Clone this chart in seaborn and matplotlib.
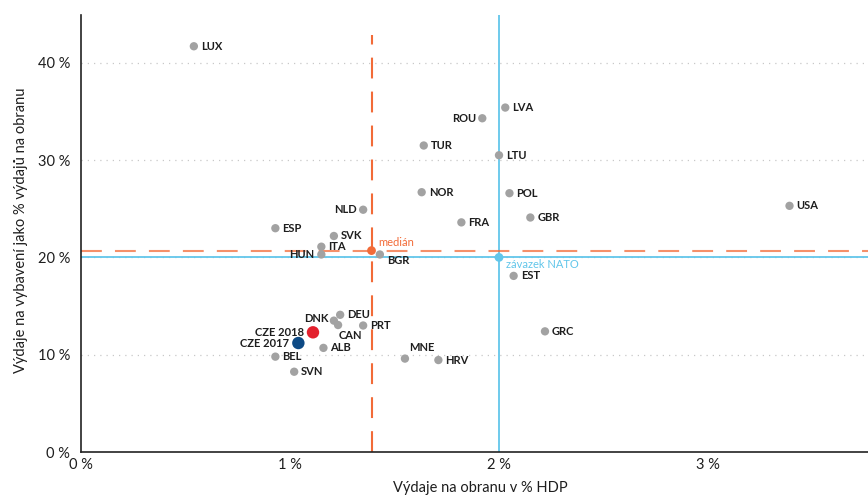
import matplotlib
matplotlib.use("Agg")
import matplotlib.pyplot as plt
import seaborn as sns
import pandas as pd

# ---- data ----
countries = ["LUX", "ROU", "LVA", "TUR", "LTU", "NOR", "POL", "NLD", "FRA", "GBR",
             "USA", "ESP", "SVK", "ITA", "HUN", "BGR", "EST", "DEU", "DNK", "CAN",
             "PRT", "ALB", "BEL", "SVN", "MNE", "HRV", "GRC"]
gdp_share = [0.54, 1.92, 2.03, 1.64, 2.00, 1.63, 2.05, 1.35, 1.82, 2.15,
             3.39, 0.93, 1.21, 1.15, 1.15, 1.43, 2.07, 1.24, 1.21, 1.23,
             1.35, 1.16, 0.93, 1.02, 1.55, 1.71, 2.22]
equip_share = [41.7, 34.3, 35.4, 31.5, 30.5, 26.7, 26.6, 24.9, 23.6, 24.1,
               25.3, 23.0, 22.2, 21.1, 20.3, 20.3, 18.1, 14.1, 13.5, 13.05,
               13.0, 10.7, 9.8, 8.25, 9.6, 9.45, 12.4]

cze_labels = ["CZE 2018", "CZE 2017"]
cze_gdp = [1.11, 1.04]
cze_equip = [12.3, 11.2]

median_gdp = 1.39
median_equip = 20.7
nato_gdp = 2.0
nato_equip = 20.0

x_ticks = [0, 1, 2, 3]
x_tick_labels = ["0 %", "1 %", "2 %", "3 %"]
y_ticks = [0, 10, 20, 30, 40]
y_tick_labels = ["0 %", "10 %", "20 %", "30 %", "40 %"]

# ---- style ----
GRAY = "#a2a2a2"
ORANGE = "#f26b38"
BLUE = "#62c6ea"
RED = "#e3202d"
NAVY = "#0d4a85"
TXT = "#1e1e1e"

sns.set_theme(style="white")
plt.rcParams["font.family"] = ["Lato", "DejaVu Sans"]

fig = plt.figure(figsize=(8.68, 4.96), dpi=100)
ax = fig.add_axes([81 / 868, 44 / 496, 787 / 868, 437 / 496])

df = pd.DataFrame({"country": countries, "gdp": gdp_share, "equip": equip_share})
cz = pd.DataFrame({"label": cze_labels, "gdp": cze_gdp, "equip": cze_equip})

# grid
for yt in y_ticks[1:]:
    ax.axhline(yt, color="#c8c8c8", lw=0.9, ls=(0, (1, 4)), zorder=0)

# NATO lines
ax.axvline(nato_gdp, color=BLUE, lw=1.3, zorder=1)
ax.axhline(nato_equip, color=BLUE, lw=1.3, zorder=1)

# median lines (dashed)
ax.plot([0, 4], [median_equip, median_equip], color=ORANGE, lw=1.5, alpha=0.75,
        dashes=(10, 6.3), zorder=1.5)
ax.plot([median_gdp, median_gdp], [0, 42.9], color=ORANGE, lw=1.5,
        dashes=(10, 6.3), zorder=1.5)

sns.scatterplot(data=df, x="gdp", y="equip", ax=ax, color=GRAY, s=36,
                edgecolor="none", zorder=3, legend=False)
sns.scatterplot(data=cz, x="gdp", y="equip", hue="label", palette=[RED, NAVY],
                ax=ax, s=80, edgecolor="none", zorder=4, legend=False)
ax.scatter([median_gdp], [median_equip], color=ORANGE, s=40, zorder=4, edgecolor="none")
ax.scatter([nato_gdp], [nato_equip], color=BLUE, s=40, zorder=4, edgecolor="none")

# label placement (offset in points, horizontal alignment)
k = 0.72
place = {
    "ROU": (-6 * k, 0, "right"),
    "NLD": (-6 * k, 0, "right"),
    "HUN": (-7.5 * k, 0, "right"),
    "DNK": (-5 * k, 2 * k, "right"),
    "CAN": (1 * k, -10 * k, "left"),
    "BGR": (7.5 * k, -6.5 * k, "left"),
    "MNE": (4.5 * k, 11 * k, "left"),
}
lab_kw = dict(fontsize=8, fontweight="bold", color=TXT, va="center")
for c, xv, yv in zip(countries, gdp_share, equip_share):
    dx, dy, ha = place.get(c, (7 * k, 0, "left"))
    ax.annotate(c, (xv, yv), xytext=(dx, dy), textcoords="offset points",
                ha=ha, zorder=5, **lab_kw)
for lab, xv, yv in zip(cze_labels, cze_gdp, cze_equip):
    ax.annotate(lab, (xv, yv), xytext=(-9 * k, 0), textcoords="offset points",
                ha="right", zorder=5, **lab_kw)

ax.annotate("medián", (median_gdp, median_equip), xytext=(7 * k, 8 * k),
            textcoords="offset points", ha="left", va="center", fontsize=8,
            color=ORANGE)
ax.annotate("závazek NATO", (nato_gdp, nato_equip), xytext=(7 * k, -7 * k),
            textcoords="offset points", ha="left", va="center", fontsize=8,
            color=BLUE)

ax.set_xlim(0, 787 / 209)
ax.set_ylim(0, 437 / 9.73)
ax.set_xticks(x_ticks)
ax.set_xticklabels(x_tick_labels)
ax.set_yticks(y_ticks)
ax.set_yticklabels(y_tick_labels)
ax.tick_params(axis="both", length=0, labelsize=10.5, colors=TXT)
ax.tick_params(axis="x", pad=4)
ax.tick_params(axis="y", pad=8)

for side in ["top", "right"]:
    ax.spines[side].set_visible(False)
for side in ["left", "bottom"]:
    ax.spines[side].set_color("#222222")
    ax.spines[side].set_linewidth(1.2)

ax.set_xlabel("Výdaje na obranu v % HDP", fontsize=10.5, color=TXT)
ax.set_ylabel("Výdaje na vybavení jako % výdajů na obranu", fontsize=10.5, color=TXT)
ax.xaxis.set_label_coords(0.507, -(481 - 452) / 437)
ax.yaxis.set_label_coords(-(81 - 28) / 787, (452 - 230) / 437)

fig.savefig("out.png", dpi=100)
